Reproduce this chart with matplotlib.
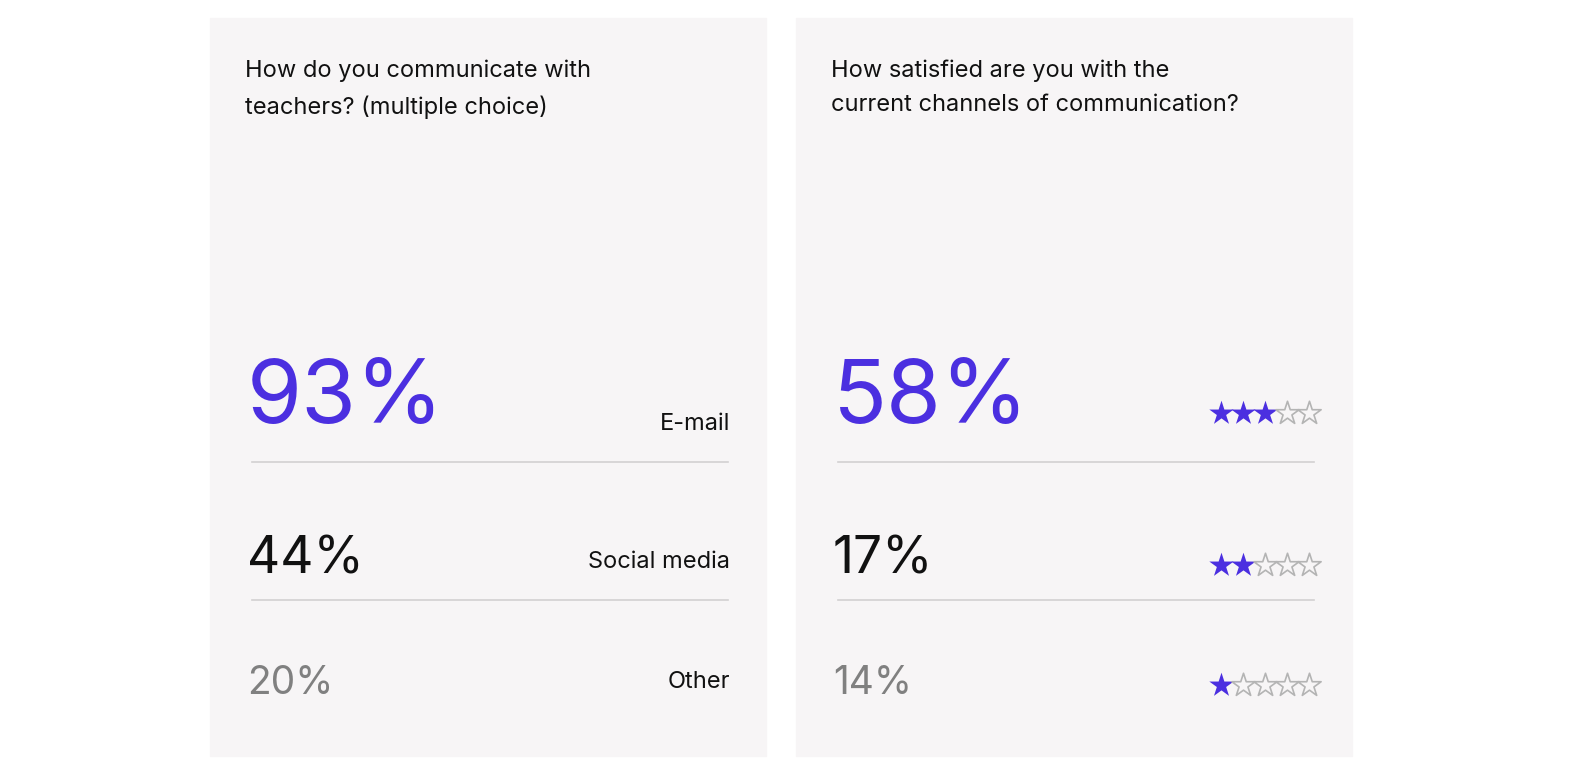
import matplotlib
matplotlib.use("Agg")
import matplotlib.pyplot as plt
from matplotlib.patches import Rectangle

plt.rcParams['font.family'] = ['Inter', 'DejaVu Sans']

left_title = "How do you communicate with\nteachers? (multiple choice)"
left_values = ["93%", "44%", "20%"]
left_labels = ["E-mail", "Social media", "Other"]
right_title = "How satisfied are you with the\ncurrent channels of communication?"
right_values = ["58%", "17%", "14%"]
right_stars = [3, 2, 1]

BLUE = "#4b2fe0"
PANEL = "#f7f5f6"
value_colors = [BLUE, "#111111", "#808080"]
value_sizes = [64, 37, 28]
value_y = [423, 574, 694]
label_y = [430, 568, 688]
star_y = [413, 565, 685]
line_y = [462, 600]

fig = plt.figure(figsize=(15.87, 7.8), dpi=100)
ax = fig.add_axes([0, 0, 1, 1])
ax.set_xlim(0, 1587)
ax.set_ylim(780, 0)
ax.axis('off')

for x0 in (210, 796):
    ax.add_patch(Rectangle((x0, 18), 556, 738, color=PANEL, zorder=0))
    for ly in line_y:
        ax.plot([x0 + 42, x0 + 518], [ly, ly], color="#d2d0d1", lw=1.2)

ax.text(245, 60, left_title, fontsize=17, va='top', linespacing=1.7, color="#111111")
ax.text(831, 60, right_title, fontsize=17, va='top', linespacing=1.7, color="#111111")

for i in range(3):
    ax.text(247, value_y[i], left_values[i], fontsize=value_sizes[i], color=value_colors[i],
            va='baseline', ha='left')
    ax.text(730, label_y[i], left_labels[i], fontsize=17, color="#111111", va='baseline', ha='right')
    ax.text(833, value_y[i], right_values[i], fontsize=value_sizes[i], color=value_colors[i],
            va='baseline', ha='left')
    xs = [1221 + 22 * k for k in range(5)]
    n = right_stars[i]
    ax.scatter(xs[:n], [star_y[i]] * n, marker='*', s=340, color=BLUE, linewidths=0, zorder=3)
    ax.scatter(xs[n:], [star_y[i]] * (5 - n), marker='*', s=310, facecolor=PANEL,
               edgecolor="#b4b4b4", linewidths=1.2, zorder=3)

fig.savefig("out.png", dpi=100, facecolor="white")
